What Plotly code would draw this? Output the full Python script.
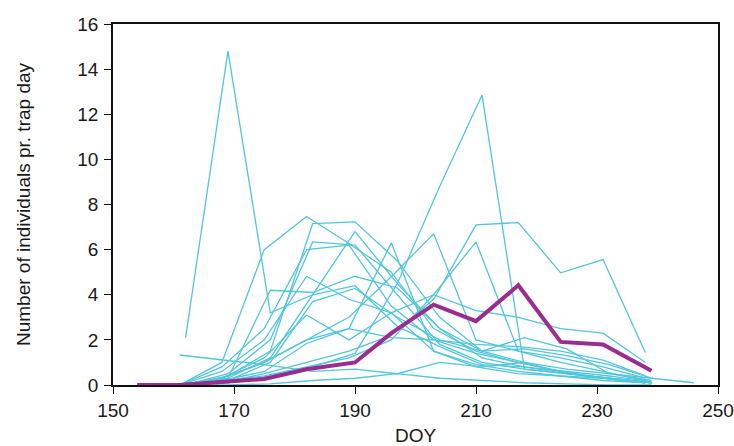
import plotly.graph_objects as go

# Sampling days (DOY) used by different years
x_a = [162, 169, 176, 183, 190, 197, 204, 211, 218, 225, 232, 239]
x_b = [161, 168, 175, 182, 189, 196, 203, 210, 217, 224, 231, 238]
x_c = [161, 175, 183, 190, 197, 204, 211, 218, 225, 232, 239, 246]

# Individual years (individuals per trap day)
s01 = [2.1, 14.8, 3.2, 4.0, 4.4, 2.6, 1.7, 0.9, 0.8, 0.6, 0.4, 0.15]
s02 = [0.0, 0.1, 0.4, 0.8, 1.4, 4.5, 8.8, 12.85, 0.7, 0.5, 0.3, 0.1]
s03 = [0.0, 0.1, 0.5, 1.0, 1.5, 2.2, 3.8, 7.1, 7.2, 4.97, 5.56, 1.43]
s04 = [0.0, 0.2, 0.4, 0.8, 1.2, 2.0, 4.0, 3.3, 3.0, 2.5, 2.3, 1.0]
s05 = [0.0, 0.3, 1.0, 2.0, 3.0, 4.8, 6.7, 2.0, 1.5, 1.2, 0.8, 0.3]
s06 = [0.0, 0.3, 1.0, 2.0, 2.5, 6.3, 1.5, 0.9, 0.6, 0.4, 0.3, 0.1]
s07 = [0.0, 1.0, 6.0, 7.47, 6.27, 5.0, 2.5, 1.5, 1.0, 0.6, 0.3, 0.1]
s08 = [0.0, 0.4, 1.5, 7.15, 7.23, 5.5, 3.0, 1.5, 1.0, 0.5, 0.3, 0.1]
s09 = [0.0, 0.3, 1.2, 4.0, 6.8, 4.5, 2.5, 1.2, 0.8, 0.5, 0.3, 0.1]
s10 = [0.0, 0.5, 2.0, 6.34, 6.2, 4.0, 1.8, 1.0, 0.7, 0.5, 0.3, 0.1]
s11 = [0.0, 0.8, 2.5, 6.0, 6.2, 3.5, 2.0, 1.4, 1.0, 0.6, 0.3, 0.1]
s12 = [0.0, 0.6, 2.0, 4.82, 3.8, 3.2, 1.5, 0.8, 0.5, 0.4, 0.2, 0.1]
s13 = [0.0, 0.3, 4.2, 4.1, 4.82, 4.3, 2.5, 1.5, 2.1, 1.6, 0.5, 0.2]
s14 = [0.0, 0.2, 1.0, 3.7, 4.28, 3.0, 2.0, 1.5, 1.6, 1.3, 0.9, 0.3]
s15 = [0.0, 0.3, 1.2, 3.1, 2.0, 3.2, 4.0, 6.34, 1.5, 1.0, 0.6, 0.2]
s16 = [0.0, 0.2, 0.6, 1.84, 2.5, 2.1, 2.0, 1.8, 1.7, 1.5, 1.1, 0.4]
s17 = [1.33, 0.9, 0.6, 0.7, 0.5, 1.0, 0.8, 1.0, 0.7, 0.5, 0.3, 0.1]
s18 = [0.0, 0.0, 0.05, 0.2, 0.3, 0.5, 0.3, 0.2, 0.1, 0.05, 0.0, 0.0]

years = [
    (x_a, s01), (x_a, s02), (x_b, s03), (x_b, s04), (x_b, s05), (x_b, s06),
    (x_b, s07), (x_a, s08), (x_a, s09), (x_a, s10), (x_b, s11), (x_b, s12),
    (x_a, s13), (x_a, s14), (x_b, s15), (x_b, s16), (x_c, s17), (x_a, s18),
]

# Mean across years
mean_x = [154, 161, 169, 175, 182, 190, 196, 203, 210, 217, 224, 231, 239]
mean_y = [0.0, 0.0, 0.15, 0.27, 0.7, 1.0, 2.3, 3.56, 2.83, 4.42, 1.91, 1.8, 0.63]

x_ticks = [150, 170, 190, 210, 230, 250]
y_ticks = [0, 2, 4, 6, 8, 10, 12, 14, 16]

CYAN = "#52C6DB"
PURPLE = "#9B2B8F"
FONT = "Liberation Sans, Arial, sans-serif"
TXT = "#1a1a1a"

fig = go.Figure()
for xs, ys in years:
    fig.add_trace(go.Scatter(x=xs, y=ys, mode="lines",
                             line=dict(color=CYAN, width=1.3),
                             showlegend=False, hoverinfo="skip"))
fig.add_trace(go.Scatter(x=mean_x, y=mean_y, mode="lines",
                         line=dict(color=PURPLE, width=4),
                         cliponaxis=False, showlegend=False))

axis_common = dict(showgrid=False, zeroline=False, showline=True,
                   linecolor="#111111", linewidth=1.6, mirror=True,
                   ticks="outside", ticklen=7, tickwidth=1.4, tickcolor="#111111",
                   automargin=False,
                   tickfont=dict(family=FONT, size=19, color=TXT))

fig.update_layout(
    width=734, height=446,
    margin=dict(l=113, r=16, t=24, b=61),
    paper_bgcolor="white", plot_bgcolor="white",
    font=dict(family=FONT, size=19, color=TXT),
    xaxis=dict(range=[150, 250], tickvals=x_ticks,
               title=dict(text="DOY", standoff=12, font=dict(family=FONT, size=19, color=TXT)),
               **axis_common),
    yaxis=dict(range=[0, 16], tickvals=y_ticks, ticklabelstandoff=2,
               title=dict(text="Number of individuals pr. trap day", standoff=42,
                          font=dict(family=FONT, size=19, color=TXT)),
               **axis_common),
)

fig.write_html("out.html")
